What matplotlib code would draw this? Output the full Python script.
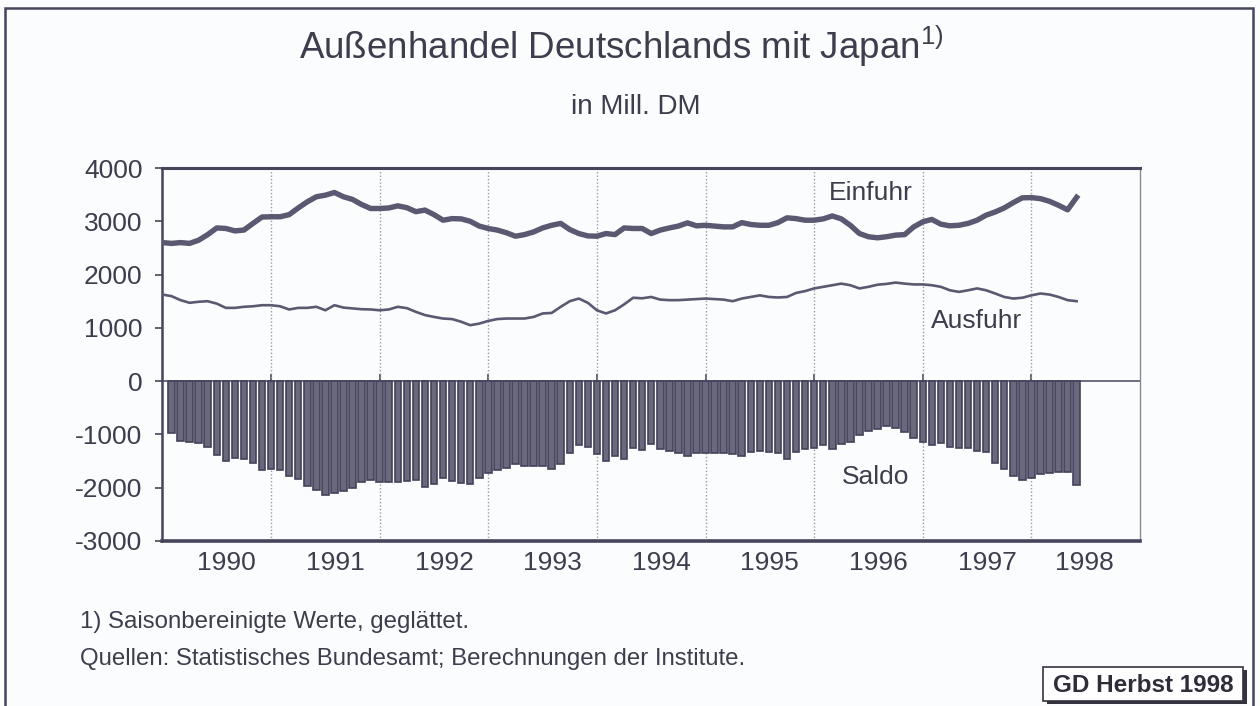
import numpy as np
import matplotlib
matplotlib.use('Agg')
import matplotlib.pyplot as plt
from matplotlib.patches import Rectangle

plt.rcParams['font.family'] = ['Liberation Sans', 'DejaVu Sans']
plt.rcParams['mathtext.fontset'] = 'custom'
plt.rcParams['mathtext.rm'] = 'Liberation Sans'
plt.rcParams['axes.unicode_minus'] = False

# monthly values, Mill. DM (lines start one month before the bars)
einfuhr = [2600, 2585, 2600, 2585, 2645, 2750, 2875, 2865, 2820, 2835,
           2960, 3080, 3085, 3085, 3125, 3250, 3365, 3460, 3490, 3540,
           3460, 3410, 3315, 3240, 3240, 3250, 3290, 3255, 3180, 3210,
           3125, 3020, 3050, 3045, 3000, 2910, 2865, 2835, 2785, 2720,
           2750, 2800, 2875, 2925, 2960, 2845, 2770, 2725, 2720, 2770,
           2750, 2875, 2865, 2865, 2770, 2835, 2875, 2910, 2970, 2915,
           2925, 2910, 2895, 2895, 2975, 2940, 2925, 2925, 2975, 3065,
           3050, 3020, 3020, 3045, 3100, 3045, 2925, 2770, 2710, 2690,
           2710, 2740, 2750, 2895, 2990, 3035, 2945, 2915, 2925, 2960,
           3020, 3115, 3175, 3250, 3350, 3440, 3445, 3425, 3375, 3300,
           3215, 3450]
ausfuhr = [1625, 1595, 1520, 1470, 1490, 1500, 1455, 1375, 1375, 1395,
           1405, 1425, 1425, 1405, 1345, 1375, 1375, 1395, 1330, 1425,
           1380, 1365, 1350, 1345, 1330, 1345, 1395, 1370, 1300, 1240,
           1205, 1175, 1165, 1115, 1050, 1080, 1130, 1165, 1175, 1175,
           1175, 1205, 1270, 1280, 1395, 1500, 1550, 1470, 1330, 1270,
           1330, 1440, 1565, 1555, 1580, 1530, 1520, 1520, 1530, 1540,
           1550, 1540, 1530, 1500, 1550, 1580, 1610, 1580, 1570, 1580,
           1655, 1690, 1740, 1770, 1800, 1830, 1800, 1740, 1770, 1810,
           1825, 1850, 1830, 1815, 1815, 1800, 1770, 1705, 1675, 1705,
           1740, 1705, 1645, 1580, 1550, 1565, 1610, 1645, 1625, 1580,
           1520, 1500]
saldo = [-970, -1120, -1140, -1170, -1230, -1390, -1490, -1445, -1460, -1540,
         -1660, -1655, -1660, -1775, -1835, -1975, -2045, -2140, -2090, -2060,
         -2000, -1890, -1850, -1900, -1900, -1885, -1870, -1857, -1983, -1925,
         -1826, -1880, -1920, -1938, -1826, -1732, -1670, -1632, -1550, -1588,
         -1588, -1600, -1645, -1560, -1350, -1207, -1232, -1363, -1498, -1398,
         -1470, -1251, -1300, -1176, -1272, -1320, -1351, -1398, -1357, -1357,
         -1342, -1342, -1373, -1398, -1335, -1310, -1333, -1351, -1460, -1335,
         -1270, -1248, -1200, -1279, -1185, -1138, -1007, -935, -904, -840,
         -888, -951, -1076, -1140, -1200, -1170, -1232, -1263, -1255, -1315,
         -1335, -1530, -1645, -1780, -1857, -1826, -1740, -1715, -1698, -1698,
         -1951]
years = ['1990', '1991', '1992', '1993', '1994', '1995', '1996', '1997', '1998']

TEXT = '#3e3d4d'
INK = '#47455c'
LINE = '#5b5971'
BG = '#fbfcfd'

fig = plt.figure(figsize=(12.6, 7.06), dpi=100)
fig.patch.set_facecolor(BG)
ax = fig.add_axes([162/1260, 1 - 541/706, 978/1260, 373/706])
ax.set_facecolor(BG)

x_line = np.arange(len(einfuhr)) - 1
x_bar = np.arange(len(saldo))

ax.bar(x_bar, saldo, width=0.72, color='#6a687d', edgecolor='#43415a',
       linewidth=1.2, zorder=2)
ax.plot(x_line, einfuhr, color=LINE, lw=3.9, solid_joinstyle='round', zorder=3)
ax.plot(x_line, ausfuhr, color=LINE, lw=1.9, zorder=3)

ax.set_xlim(-1.05, 107)
ax.set_ylim(-3000, 4000)
ax.set_yticks(range(-3000, 4001, 1000))
ax.tick_params(axis='y', direction='out', length=5, width=1.2, color=INK,
               labelsize=19, labelcolor=TEXT, pad=9)

# year boundaries: dotted gridlines
grid_pos = np.arange(11, len(saldo), 12)
ax.set_xticks(grid_pos, minor=True)
ax.grid(which='minor', axis='x', color='#9a9aa8', lw=1, ls=(0, (1, 1.5)), zorder=1)
label_pos = list(grid_pos - 4.9) + [100.8]
ax.set_xticks(label_pos, years)
ax.tick_params(axis='x', which='both', length=0, pad=7, labelsize=19, labelcolor=TEXT)

for side, lw, c in [('top', 2.2, INK), ('left', 1.8, INK), ('bottom', 2.6, INK), ('right', 1.0, '#8a8a96')]:
    ax.spines[side].set_linewidth(lw)
    ax.spines[side].set_color(c)

# zero line with small ticks at the year boundaries
secax = ax.secondary_xaxis(3/7)
secax.set_xticks(grid_pos)
secax.xaxis.set_ticks_position('bottom')
secax.tick_params(direction='in', length=5, width=1.2, color=INK,
                  labelbottom=False, labeltop=False)
for s in secax.spines.values():
    s.set_color(INK)
    s.set_linewidth(1.1)

ax.text(77.3, 3530, 'Einfuhr', ha='center', va='center', fontsize=19, color=TEXT)
ax.text(89.0, 1130, 'Ausfuhr', ha='center', va='center', fontsize=19, color=TEXT)
ax.text(77.8, -1800, 'Saldo', ha='center', va='center', fontsize=19, color=TEXT)

fig.text(621/1260, 1 - 46/706, r'Außenhandel Deutschlands mit Japan$^{\mathrm{1)}}$',
         ha='center', va='center', fontsize=26.5, color=TEXT)
fig.text(636/1260, 1 - 107/706, 'in Mill. DM', ha='center', va='center',
         fontsize=20, color=TEXT)

fig.text(80/1260, 1 - 622/706, '1) Saisonbereinigte Werte, geglättet.',
         ha='left', va='center', fontsize=17.3, color=TEXT)
fig.text(80/1260, 1 - 659/706, 'Quellen: Statistisches Bundesamt; Berechnungen der Institute.',
         ha='left', va='center', fontsize=17.3, color=TEXT)

# GD Herbst stamp with shadow
fig.add_artist(Rectangle((1047/1260, 1 - 704/706), 200/1260, 34/706,
                         transform=fig.transFigure, facecolor='#33323f', edgecolor='none'))
fig.add_artist(Rectangle((1043/1260, 1 - 701/706), 200/1260, 34/706,
                         transform=fig.transFigure, facecolor='white', edgecolor='#33323f', lw=1.2))
fig.text(1143/1260, 1 - 685/706, 'GD Herbst 1998', ha='center', va='center',
         fontsize=17.5, fontweight='bold', color='#2e2d3a')

# outer frame
fig.add_artist(Rectangle((5/1260, -0.02), 1248/1260, 1.02 - 8/706,
                         transform=fig.transFigure, fill=False, edgecolor=INK, lw=1.8))

fig.savefig('out.png', dpi=100, facecolor=fig.get_facecolor())
